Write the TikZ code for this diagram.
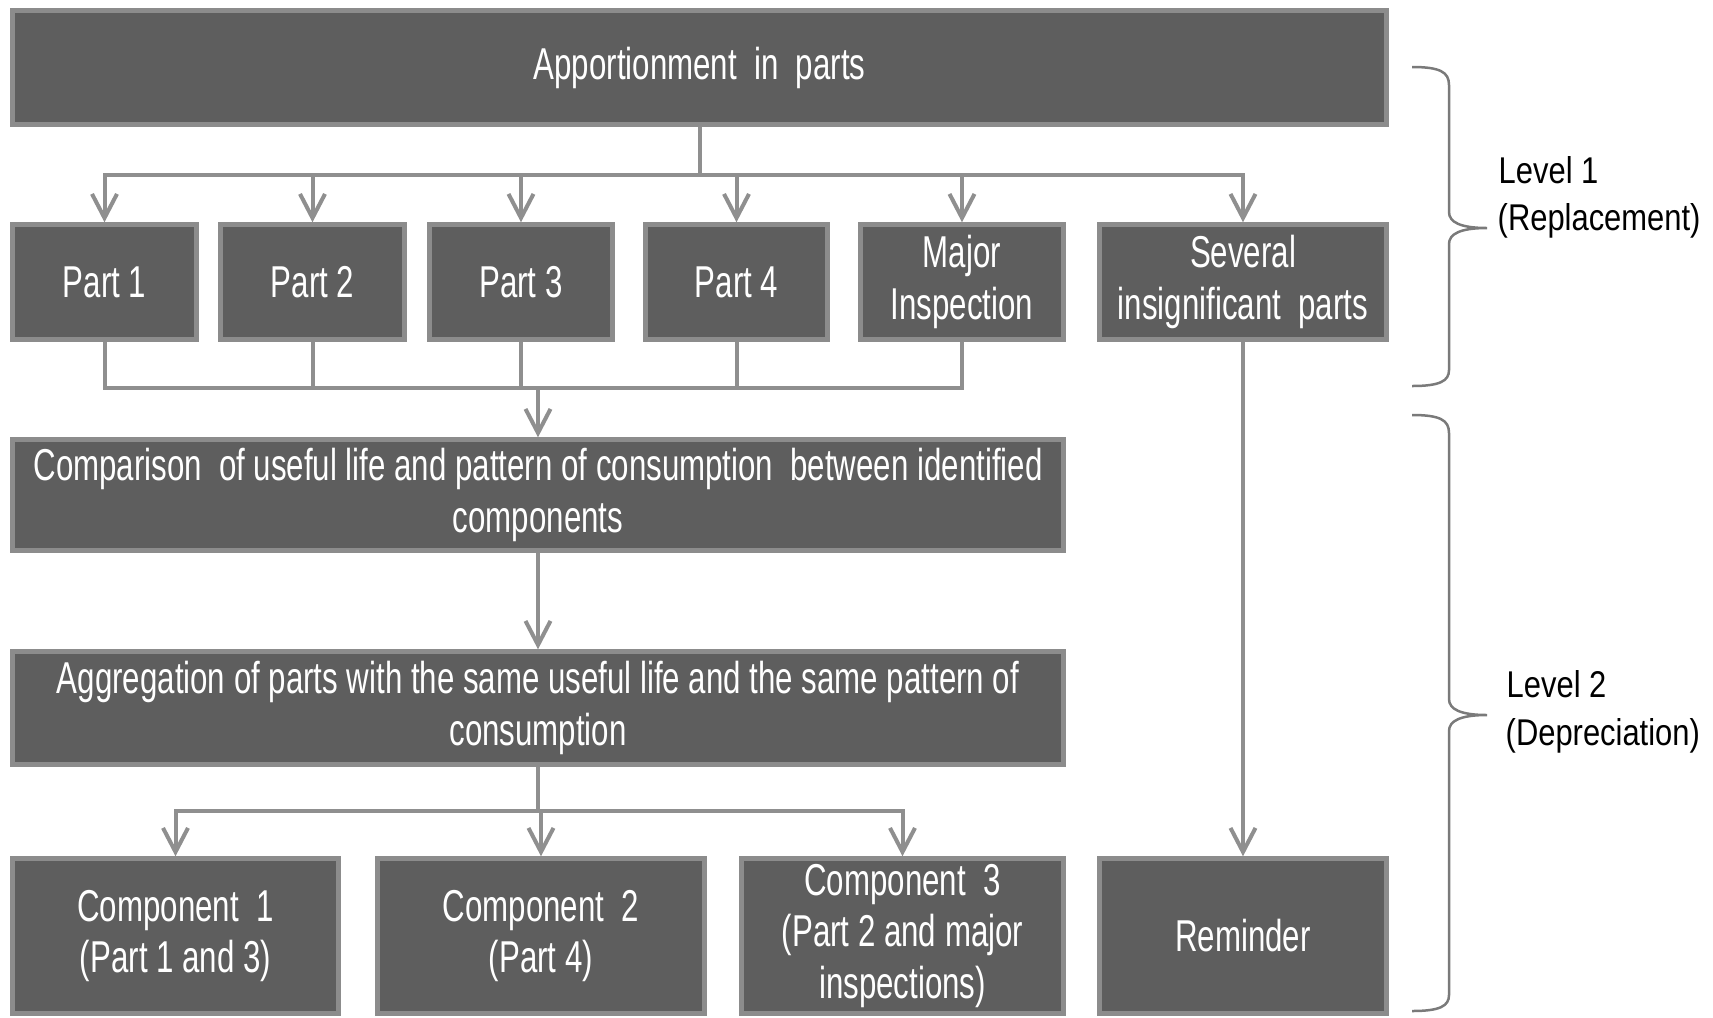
\documentclass[tikz,border=0pt]{standalone}
\usepackage{fontspec}
\newfontfamily\bxfont{Liberation Sans}[FakeStretch=0.7]
\newfontfamily\lbfont{Liberation Sans}[FakeStretch=0.83]
\usetikzlibrary{arrows.meta}
\definecolor{boxfill}{HTML}{5E5E5E}
\definecolor{boxline}{HTML}{8C8C8C}
\definecolor{connc}{HTML}{8F8F8F}
\definecolor{bracec}{HTML}{7A7A7A}
\begin{document}
\begin{tikzpicture}[x=0.1mm,y=-0.1mm,
  box/.style={draw=boxline, fill=boxfill, line width=0.45mm, text=white,
    font=\bxfont\fontsize{12.7}{14.6}\selectfont, align=center, inner sep=0pt},
  partbox/.style={box, minimum height=11.5mm},
  widebox/.style={box, minimum width=105.1mm},
  botbox/.style={box, minimum height=15.5mm},
  conn/.style={draw=connc, line width=0.4mm},
  arr/.style={conn, -{Straight Barb[length=2.4mm,width=2.5mm]}},
  lbl/.style={font=\lbfont\fontsize{10.6}{13}\selectfont, text=black, inner sep=0pt, anchor=base west},
  brc/.style={draw=bracec, line width=0.25mm}]
\useasboundingbox (0,0) rectangle (1713,1017);

% boxes
\node[box, minimum width=137.4mm, minimum height=11.4mm] (top) at (699.5,67.5) {\raisebox{-0.3mm}{Apportionment\ \ in\ \ parts}};
\node[partbox, minimum width=18.4mm] (p1) at (104.5,282) {Part 1};
\node[partbox, minimum width=18.4mm] (p2) at (312.5,282) {Part 2};
\node[partbox, minimum width=18.3mm] (p3) at (521,282) {Part 3};
\node[partbox, minimum width=18.2mm] (p4) at (736.5,282) {Part 4};
\node[partbox, minimum width=20.3mm] (p5) at (962,282) {Major\\Inspection};
\node[partbox, minimum width=28.7mm] (p6) at (1243,282) {Several\\insignificant\ \ parts};
\node[widebox, minimum height=11.1mm] (cmp) at (538,495) {Comparison\ \ of useful life and pattern of consumption\ \ between identified\\components};
\node[widebox, minimum height=11.3mm] (agg) at (538,708) {Aggregation of parts with the same useful life and the same pattern of\\consumption};
\node[botbox, minimum width=32.6mm] (c1) at (175.5,936) {Component\ \ 1\\(Part 1 and 3)};
\node[botbox, minimum width=32.7mm] (c2) at (541,936) {Component\ \ 2\\(Part 4)};
\node[botbox, minimum width=32.2mm] (c3) at (902.5,936) {Component\ \ 3\\(Part 2 and major\\inspections)};
\node[botbox, minimum width=28.7mm] (rem) at (1243,936) {Reminder};

% connectors
\coordinate (b1) at (699.5,175);
\draw[conn] (top.south) -- (b1);
\foreach \n in {p1,p2,p3,p4,p5,p6} \draw[arr] (b1) -| (\n.north);

\coordinate (b2) at (538,388);
\foreach \n in {p1,p2,p3,p4,p5} \draw[conn] (\n.south) |- (b2);
\draw[arr] (b2) -- (cmp.north);

\draw[arr] (cmp.south) -- (agg.north);

\coordinate (b3) at (538,811);
\draw[conn] (agg.south) -- (b3);
\foreach \n in {c1,c2,c3} \draw[arr] (b3) -| (\n.north);

\draw[arr] (p6.south) -- (rem.north);

% braces
\draw[brc] (1412,67) .. controls (1440,67) and (1449,72) .. (1449,85) -- (1449,212)
  .. controls (1449,222) and (1460,228) .. (1487,228)
  .. controls (1460,228) and (1449,234) .. (1449,244) -- (1449,370)
  .. controls (1449,381) and (1440,386) .. (1412,386);
\draw[brc] (1412,415) .. controls (1440,415) and (1449,420) .. (1449,433) -- (1449,699)
  .. controls (1449,709) and (1460,715) .. (1487,715)
  .. controls (1460,715) and (1449,721) .. (1449,731) -- (1449,995)
  .. controls (1449,1006) and (1440,1011) .. (1412,1011);

% labels
\node[lbl] (l1a) at (1498,183) {Level 1};
\node[lbl] (l1b) at (1497,230) {(Replacement)};
\node[lbl] (l2a) at (1506,697) {Level 2};
\node[lbl] (l2b) at (1505,745) {(Depreciation)};
\end{tikzpicture}
\end{document}
